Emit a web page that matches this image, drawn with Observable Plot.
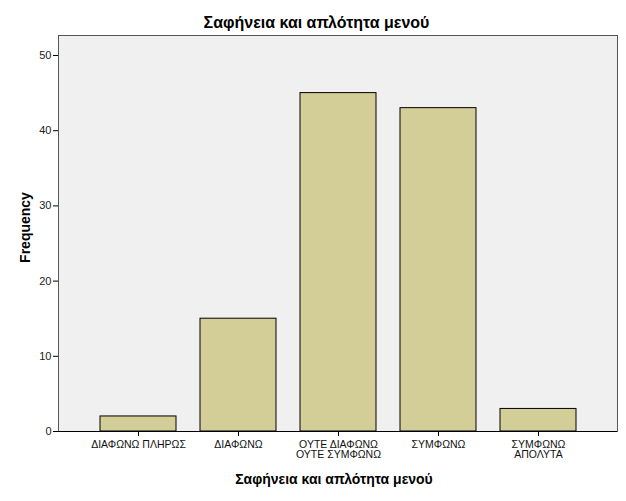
<!DOCTYPE html>
<html>
<head>
<meta charset="utf-8">
<script src="https://cdn.jsdelivr.net/npm/d3@7"></script>
<script src="https://cdn.jsdelivr.net/npm/@observablehq/plot@0.6"></script>
<style>
  html, body { margin: 0; padding: 0; background: #fff; }
  svg { display: block; }
</style>
</head>
<body>
<div id="chart"></div>
<script>
const categories = ["ΔΙΑΦΩΝΩ ΠΛΗΡΩΣ", "ΔΙΑΦΩΝΩ", "ΟΥΤΕ ΔΙΑΦΩΝΩ\nΟΥΤΕ ΣΥΜΦΩΝΩ", "ΣΥΜΦΩΝΩ", "ΣΥΜΦΩΝΩ\nΑΠΟΛΥΤΑ"];
const frequencies = [2, 15, 45, 43, 3];
const yTicks = [0, 10, 20, 30, 40, 50];
const title = "Σαφήνεια και απλότητα μενού";
const xLabel = "Σαφήνεια και απλότητα μενού";
const yLabel = "Frequency";

const data = categories.map((c, i) => ({category: c, value: frequencies[i]}));
const font = "Arial, 'Liberation Sans', sans-serif";

const chart = Plot.plot({
  width: 626,
  height: 501,
  marginLeft: 58,
  marginRight: 9,
  marginTop: 35,
  marginBottom: 70,
  style: {fontFamily: font, background: "#fff", color: "#000"},
  x: {domain: categories, paddingInner: 0.245, paddingOuter: 0.397, label: null},
  y: {domain: [0, 52.66], label: null},
  marks: [
    Plot.frame({fill: "#f0f0f0", stroke: null}),
    Plot.barY(data, {x: "category", y: "value", fill: "#d3ce97", stroke: "#000", strokeWidth: 1}),
    Plot.frame({stroke: "#555", strokeWidth: 1}),
    Plot.ruleY([0], {stroke: "#000", strokeWidth: 1}),
    Plot.axisY({ticks: yTicks, tickSize: 5, tickPadding: 2, fontSize: 11, tickFormat: d => String(d), label: null, stroke: "#000", fill: "#222"}),
    Plot.axisX({tickSize: 5, tickPadding: 4, fontSize: 10.5, label: null, lineHeight: 1.0, stroke: "#000", fill: "#111"}),
    Plot.text([title], {frameAnchor: "top", lineAnchor: "middle", dx: -21.5, dy: -13, fontSize: 16, fontWeight: "bold", fill: "#000"}),
    Plot.text([xLabel], {frameAnchor: "bottom", lineAnchor: "middle", dx: -4, dy: 48, fontSize: 14, fontWeight: "bold", fill: "#000"}),
    Plot.text([yLabel], {frameAnchor: "left", textAnchor: "middle", lineAnchor: "middle", dx: -33, dy: -6, rotate: -90, fontSize: 14, fontWeight: "bold", fill: "#000"})
  ]
});
document.getElementById("chart").appendChild(chart);
</script>
</body>
</html>
